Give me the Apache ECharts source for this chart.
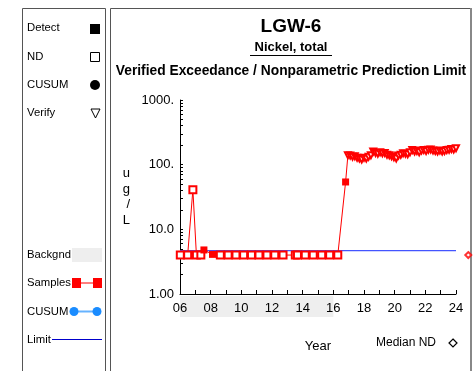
<!DOCTYPE html>
<html>
<head>
<meta charset="utf-8">
<script src="https://cdn.jsdelivr.net/npm/echarts@6/dist/echarts.min.js"></script>
<style>
  html, body { margin: 0; padding: 0; background: #fff; }
  #chart { width: 476px; height: 371px; }
</style>
</head>
<body>
<div id="chart"></div>
<script>
// sample dates (decimal years), values in ug/L, and flag: N = non-detect, D = detect, V = verify
const sampleYears = [
  2006.02, 2006.50, 2006.84, 2007.07, 2007.36, 2007.56, 2008.12, 2008.63, 2009.14, 2009.65,
  2010.15, 2010.66, 2011.15, 2011.67, 2012.18, 2012.72, 2013.52, 2013.66, 2014.17, 2014.69,
  2015.24, 2015.76, 2016.29, 2016.80,
  2016.95, 2017.10, 2017.25, 2017.40, 2017.55, 2017.70, 2017.85, 2018.00, 2018.15, 2018.30,
  2018.45, 2018.60, 2018.75, 2018.90, 2019.05, 2019.20, 2019.35, 2019.50, 2019.65, 2019.80,
  2019.95, 2020.10, 2020.25, 2020.40, 2020.55, 2020.70, 2020.85, 2021.00, 2021.15, 2021.30,
  2021.45, 2021.60, 2021.75, 2021.90, 2022.05, 2022.20, 2022.35, 2022.50, 2022.65, 2022.80,
  2022.95, 2023.10, 2023.25, 2023.40, 2023.55, 2023.70, 2023.85, 2024.00
];
const sampleValues = [
  4.0, 4.0, 41, 4.0, 4.0, 4.8, 4.1, 4.0, 4.0, 4.0,
  4.0, 4.0, 4.0, 4.0, 4.0, 4.0, 4.0, 4.0, 4.0, 4.0,
  4.0, 4.0, 4.0, 54,
  140, 138, 133, 135, 128, 124, 120, 128, 124, 132,
  140, 160, 152, 148, 155, 150, 152, 142, 140, 135,
  130, 125, 138, 142, 150, 148, 145, 155, 168, 160,
  162, 155, 165, 168, 162, 170, 172, 165, 162, 160,
  165, 160, 162, 168, 170, 175, 172, 180
];
const sampleFlags = [
  'N', 'N', 'N', 'N', 'N', 'D', 'D', 'N', 'N', 'N',
  'N', 'N', 'N', 'N', 'N', 'N', 'N', 'N', 'N', 'N',
  'N', 'N', 'N', 'D',
  'V', 'V', 'V', 'V', 'V', 'V', 'V', 'V', 'V', 'V',
  'V', 'V', 'V', 'V', 'V', 'V', 'V', 'V', 'V', 'V',
  'V', 'V', 'V', 'V', 'V', 'V', 'V', 'V', 'V', 'V',
  'V', 'V', 'V', 'V', 'V', 'V', 'V', 'V', 'V', 'V',
  'V', 'V', 'V', 'V', 'V', 'V', 'V', 'V'
];

const limitYears = [2006, 2024];
const limitValue = 4.7;
const medianND = [2024.8, 4.0];
const bgPeriod = [2006, 2016];

const yTickLabels = { 1: '1.00', 10: '10.0', 100: '100.', 1000: '1000.' };

const RED = '#ff0000';
const FONT = 'Liberation Sans, Arial, sans-serif';

const sampleData = sampleYears.map((x, i) => {
  const f = sampleFlags[i];
  if (f === 'D') return { value: [x, sampleValues[i]], symbol: 'rect', symbolSize: 7, itemStyle: { color: RED } };
  if (f === 'V') return { value: [x, sampleValues[i]], symbol: 'emptyTriangle', symbolRotate: 180, symbolSize: 6 };
  return { value: [x, sampleValues[i]], symbol: 'emptyRect', symbolSize: 7 };
});

const chart = echarts.init(document.getElementById('chart'), null, { renderer: 'canvas' });

// left legend panel, frames and titles
const legendText = (txt, y) => ({ type: 'text', left: 27, top: y - 6, style: { text: txt, font: '11.3px ' + FONT, fill: '#000' } });
const centerText = (txt, y, size) => ({
  type: 'text', x: 291, y: y, style: { text: txt, font: 'bold ' + size + 'px ' + FONT, fill: '#000', textAlign: 'center', textVerticalAlign: 'middle' }
});
const sidePanel = [
  { type: 'rect', shape: { x: 22.5, y: 8.5, width: 83, height: 400 }, style: { fill: 'none', stroke: '#555', lineWidth: 1 } },
  { type: 'rect', shape: { x: 110.5, y: 8.5, width: 360, height: 400 }, style: { fill: 'none', stroke: '#555', lineWidth: 1 } },
  { type: 'line', shape: { x1: 471, y1: 8, x2: 471, y2: 371 }, style: { stroke: '#888', lineWidth: 2 } },
  centerText('LGW-6', 27, 19),
  centerText('Nickel, total', 47, 13),
  { type: 'line', shape: { x1: 250, y1: 55.5, x2: 332, y2: 55.5 }, style: { stroke: '#000', lineWidth: 1 } },
  centerText('Verified Exceedance / Nonparametric Prediction Limit', 71, 13.8),
  legendText('Detect', 28),
  { type: 'rect', shape: { x: 90, y: 24, width: 10, height: 10 }, style: { fill: '#000' } },
  legendText('ND', 57),
  { type: 'rect', shape: { x: 90.5, y: 52.5, width: 9, height: 9 }, style: { fill: '#fff', stroke: '#000', lineWidth: 1 } },
  legendText('CUSUM', 85),
  { type: 'circle', shape: { cx: 95, cy: 85, r: 5 }, style: { fill: '#000' } },
  legendText('Verify', 113),
  { type: 'polygon', shape: { points: [[91, 109], [100, 109], [95.5, 118]] }, style: { fill: '#fff', stroke: '#000', lineWidth: 1 } },
  legendText('Backgnd', 255),
  { type: 'rect', shape: { x: 72, y: 248, width: 30, height: 14 }, style: { fill: '#eeeeee' } },
  legendText('Samples', 283),
  { type: 'line', shape: { x1: 76, y1: 283, x2: 98, y2: 283 }, style: { stroke: RED, lineWidth: 1 } },
  { type: 'rect', shape: { x: 72, y: 278, width: 9, height: 10 }, style: { fill: RED } },
  { type: 'rect', shape: { x: 93, y: 278, width: 9, height: 10 }, style: { fill: RED } },
  legendText('CUSUM', 312),
  { type: 'line', shape: { x1: 74, y1: 311.5, x2: 97, y2: 311.5 }, style: { stroke: '#66b3ff', lineWidth: 2 } },
  { type: 'circle', shape: { cx: 74, cy: 311.5, r: 4.5 }, style: { fill: '#1a8cff' } },
  { type: 'circle', shape: { cx: 97, cy: 311.5, r: 4.5 }, style: { fill: '#1a8cff' } },
  legendText('Limit', 340),
  { type: 'line', shape: { x1: 52, y1: 339.5, x2: 102, y2: 339.5 }, style: { stroke: '#0000cc', lineWidth: 1 } },
  { type: 'text', left: 376, top: 337, style: { text: 'Median ND', font: '12px ' + FONT, fill: '#000' } },
  { type: 'polygon', shape: { points: [[453, 339], [457, 343], [453, 347], [449, 343]] }, style: { fill: '#fff', stroke: '#000', lineWidth: 1.2 } }
];

const option = {
  backgroundColor: '#ffffff',
  animation: false,
  textStyle: { fontFamily: FONT },
  grid: { left: 180, right: 20, top: 100, bottom: 77 },
  xAxis: {
    type: 'value', min: 2006, max: 2024, interval: 2,
    name: 'Year', nameLocation: 'middle', nameGap: 46,
    nameTextStyle: { fontSize: 13, color: '#000' },
    axisLine: { lineStyle: { color: '#000' } },
    axisTick: { inside: true, length: 4, lineStyle: { color: '#000' } },
    minorTick: { show: true, splitNumber: 2, length: 4, lineStyle: { color: '#000' } },
    splitLine: { show: false },
    axisLabel: { color: '#000', fontSize: 13, margin: 8, formatter: v => String(v).slice(2) }
  },
  yAxis: {
    type: 'log', logBase: 10, min: 1, max: 1000,
    name: 'u\ng\n/\nL', nameLocation: 'middle', nameGap: 50, nameRotate: 0,
    nameTextStyle: { fontSize: 13, color: '#000', lineHeight: 15.5, padding: [8, 0, 0, 0] },
    axisLine: { show: true, lineStyle: { color: '#000' } },
    axisTick: { inside: true, length: 3, lineStyle: { color: '#000' } },
    minorTick: { show: true, splitNumber: 9, length: 3, lineStyle: { color: '#000' } },
    splitLine: { show: false },
    axisLabel: { color: '#000', fontSize: 13, margin: 6, formatter: v => yTickLabels[Math.round(v)] || '' }
  },
  series: [
    {
      name: 'Limit', type: 'line', symbol: 'none', z: 1,
      data: limitYears.map(x => [x, limitValue]),
      lineStyle: { color: '#4455ff', width: 1.2 }
    },
    {
      name: 'Samples', type: 'line', z: 3,
      data: sampleData,
      lineStyle: { color: RED, width: 1 },
      itemStyle: { color: RED, borderWidth: 1 }
    },
    {
      name: 'Median ND', type: 'scatter', clip: false, z: 3,
      symbol: 'emptyDiamond', symbolSize: 6,
      itemStyle: { color: RED },
      data: [medianND]
    }
  ],
  graphic: sidePanel
};

chart.setOption(option);

// background period band under the x axis
const p0 = chart.convertToPixel({ gridIndex: 0 }, [bgPeriod[0], 1]);
const p1 = chart.convertToPixel({ gridIndex: 0 }, [bgPeriod[1], 1]);
chart.setOption({
  graphic: sidePanel.concat([
    { type: 'rect', z: -10, shape: { x: p0[0], y: p0[1] + 2, width: p1[0] - p0[0], height: 21 }, style: { fill: '#eeeeee' } }
  ])
});
</script>
</body>
</html>
